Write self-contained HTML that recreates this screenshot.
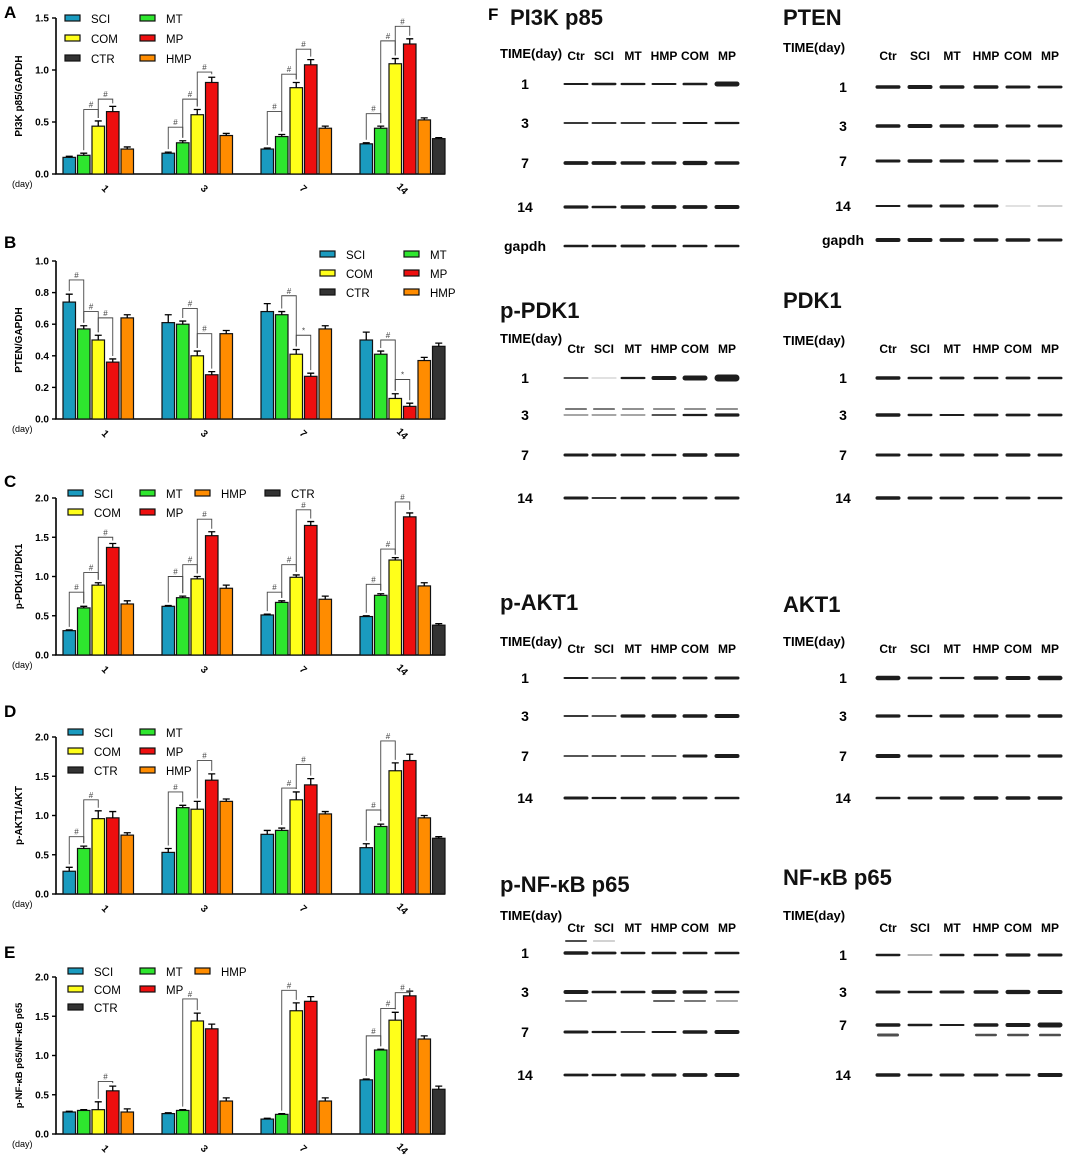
<!DOCTYPE html>
<html><head><meta charset="utf-8">
<style>
html,body{margin:0;padding:0;background:#fff;}
svg{display:block;font-family:"Liberation Sans",Arial,sans-serif;}
</style></head>
<body>
<svg id="fig" width="1065" height="1157" viewBox="0 0 1065 1157" xmlns="http://www.w3.org/2000/svg"></svg>
<script>
// ---------- chart data ----------
const days = ["1","3","7","14"];
const seriesNames = ["SCI","MT","COM","MP","HMP","CTR"];
const seriesColors = ["#1a9bbf","#2ee62e","#ffff1a","#ee0f0f","#ff8c00","#333333"];

const aSCI=[0.16,0.20,0.24,0.29], aMT=[0.18,0.30,0.36,0.44], aCOM=[0.46,0.57,0.83,1.06], aMP=[0.60,0.88,1.05,1.25], aHMP=[0.24,0.37,0.44,0.52], aCTR=[null,null,null,0.34];
const aErr=[0.01,0.02,0.05,0.05,0.02,0.01];
const aTicks=["0.0","0.5","1.0","1.5"];
const bSCI=[0.74,0.61,0.68,0.50], bMT=[0.57,0.60,0.66,0.41], bCOM=[0.50,0.40,0.41,0.13], bMP=[0.36,0.28,0.27,0.08], bHMP=[0.64,0.54,0.57,0.37], bCTR=[null,null,null,0.46];
const bErr=[0.05,0.02,0.03,0.02,0.02,0.02];
const bTicks=["0.0","0.2","0.4","0.6","0.8","1.0"];
const cSCI=[0.31,0.62,0.51,0.49], cMT=[0.60,0.73,0.67,0.76], cCOM=[0.89,0.97,0.99,1.21], cMP=[1.37,1.52,1.65,1.76], cHMP=[0.65,0.85,0.71,0.88], cCTR=[null,null,null,0.38];
const cErr=[0.01,0.02,0.03,0.05,0.04,0.02];
const dSCI=[0.29,0.53,0.76,0.59], dMT=[0.58,1.10,0.81,0.86], dCOM=[0.96,1.08,1.20,1.57], dMP=[0.97,1.45,1.39,1.70], dHMP=[0.75,1.18,1.02,0.97], dCTR=[null,null,null,0.71];
const dErr=[0.05,0.03,0.1,0.08,0.03,0.02];
const eSCI=[0.28,0.26,0.19,0.69], eMT=[0.30,0.30,0.25,1.07], eCOM=[0.31,1.44,1.57,1.45], eMP=[0.55,1.34,1.69,1.76], eHMP=[0.28,0.42,0.42,1.21], eCTR=[null,null,null,0.57];
const eErr=[0.01,0.01,0.1,0.06,0.04,0.04];
const cdeTicks=["0.0","0.5","1.0","1.5","2.0"];
// brackets: [group, barFrom, barTo, level, symbol]
const aBr=[[0,1,2,0.62,"#"],[0,2,3,0.72,"#"],[1,0,1,0.45,"#"],[1,1,2,0.72,"#"],[1,2,3,0.98,"#"],[2,0,1,0.60,"#"],[2,1,2,0.96,"#"],[2,2,3,1.20,"#"],[3,0,1,0.58,"#"],[3,1,2,1.28,"#"],[3,2,3,1.42,"#"]];
const bBr=[[0,0,1,0.88,"#"],[0,1,2,0.68,"#"],[0,2,3,0.64,"#"],[1,1,2,0.70,"#"],[1,2,3,0.54,"#"],[2,1,2,0.78,"#"],[2,2,3,0.53,"*"],[3,1,2,0.50,"#"],[3,2,3,0.25,"*"]];
const cBr=[[0,0,1,0.80,"#"],[0,1,2,1.05,"#"],[0,2,3,1.50,"#"],[1,0,1,1.00,"#"],[1,1,2,1.15,"#"],[1,2,3,1.73,"#"],[2,0,1,0.80,"#"],[2,1,2,1.15,"#"],[2,2,3,1.85,"#"],[3,0,1,0.90,"#"],[3,1,2,1.35,"#"],[3,2,3,1.95,"#"]];
const dBr=[[0,0,1,0.73,"#"],[0,1,2,1.20,"#"],[1,0,1,1.30,"#"],[1,2,3,1.70,"#"],[2,1,2,1.35,"#"],[2,2,3,1.65,"#"],[3,0,1,1.07,"#"],[3,1,2,1.95,"#"]];
const eBr=[[0,2,3,0.67,"#"],[1,1,2,1.72,"#"],[2,1,2,1.83,"#"],[3,0,1,1.25,"#"],[3,1,2,1.60,"#"],[3,2,3,1.80,"#"]];

const NS="http://www.w3.org/2000/svg";
const svg=document.getElementById('fig');
function mk(tag,attrs,parent,text){const e=document.createElementNS(NS,tag);for(const k in attrs)e.setAttribute(k,attrs[k]);if(text!==undefined)e.textContent=text;(parent||svg).appendChild(e);return e;}

function chart(cfg){
  const g=mk('g',{});
  
  
  const yv=v=>cfg.y0-(v/cfg.ymax)*(cfg.y0-cfg.ytop);
  const bx=(gi,i)=>63+gi*99+i*14.5;
  const bw=12.5;
  const L=mk('text',{x:4,y:cfg.letterY,'font-size':17,'font-weight':'bold'},g,cfg.letter);
  
  const ax=mk('path',{d:`M56 ${cfg.ytop} V${cfg.y0} H445`,stroke:'#000','stroke-width':1.6,fill:'none'},g);
  
  cfg.ticks.forEach((t,i)=>{const v=parseFloat(t);const y=yv(v);
    mk('line',{x1:52,x2:56,y1:y,y2:y,stroke:'#000','stroke-width':1.4},g);
    const tt=mk('text',{x:49,y:y+3.5,'font-size':10,'font-weight':'bold','text-anchor':'end'},g,t);
    });
  const yl=mk('text',{x:0,y:0,'font-size':cfg.ylFont||10,'font-weight':'bold','text-anchor':'middle',transform:`translate(${cfg.ylX||22},${(cfg.y0+cfg.ytop)/2}) rotate(-90)`},g,cfg.ylabel);
  
  const dl=mk('text',{x:12,y:cfg.y0+13,'font-size':9},g,'(day)');
  
  days.forEach((d,gi)=>{const x=63+gi*99+40;
    const t=mk('text',{x:0,y:0,'font-size':10,'font-weight':'bold','text-anchor':'middle',transform:`translate(${x},${cfg.y0+17}) rotate(45)`},g,d);
    });
  cfg.series.forEach((arr,si)=>{arr.forEach((v,gi)=>{if(v===null)return;
    const x=bx(gi,si), y=yv(v);
    const r=mk('rect',{x:x,y:y,width:bw,height:cfg.y0-y,fill:seriesColors[si],stroke:'#111','stroke-width':1.2},g);
    
    
    const e=cfg.err[si], ye=yv(v+e), cx=x+bw/2;
    const eb=mk('path',{d:`M${cx} ${y} V${ye} M${cx-3.5} ${ye} H${cx+3.5}`,stroke:'#000','stroke-width':1.3,fill:'none'},g);
    });});
  cfg.br.forEach(b=>{const [gi,i,j,lv,s]=b;
    const x1=bx(gi,i)+bw/2, x2=bx(gi,j)+bw/2, yt=yv(lv);
    const v1=cfg.series[i][gi], v2=cfg.series[j][gi];
    const y1=yv(v1+cfg.err[i])-3, y2=yv(v2+cfg.err[j])-3;
    const p=mk('path',{d:`M${x1} ${y1} V${yt} H${x2} V${y2}`,stroke:'#444','stroke-width':0.9,fill:'none'},g);
    
    const t=mk('text',{x:(x1+x2)/2,y:yt-2,'font-size':8,'text-anchor':'middle',fill:'#444'},g,s);
    });
  cfg.legend.forEach(l=>{const [si,x,y]=l;
    const lg=mk('g',{},g);
    
    
    mk('rect',{x:x,y:y-4,width:15,height:6,fill:seriesColors[si],stroke:'#111','stroke-width':1.2},lg);
    mk('text',{x:x+26,y:y+4,'font-size':11.5},lg,seriesNames[si]);});
}

chart({name:'chart-a-pi3k',letter:'A',letterY:18,ytop:18,y0:174,ymax:1.5,ticks:aTicks,ylabel:'PI3K p85/GAPDH',
  series:[aSCI,aMT,aCOM,aMP,aHMP,aCTR],err:aErr,br:aBr,
  legend:[[0,65,19],[2,65,39],[5,65,59],[1,140,19],[3,140,39],[4,140,59]]});
chart({name:'chart-b-pten',letter:'B',letterY:248,ytop:261,y0:419,ymax:1.0,ticks:bTicks,ylabel:'PTEN/GAPDH',
  series:[bSCI,bMT,bCOM,bMP,bHMP,bCTR],err:bErr,br:bBr,
  legend:[[0,320,255],[2,320,274],[5,320,293],[1,404,255],[3,404,274],[4,404,293]]});
chart({name:'chart-c-ppdk1',letter:'C',letterY:487,ytop:498,y0:655,ymax:2.0,ticks:cdeTicks,ylabel:'p-PDK1/PDK1',
  series:[cSCI,cMT,cCOM,cMP,cHMP,cCTR],err:cErr,br:cBr,
  legend:[[0,68,494],[1,140,494],[4,195,494],[5,265,494],[2,68,513],[3,140,513]]});
chart({name:'chart-d-pakt1',letter:'D',letterY:717,ytop:737,y0:894,ymax:2.0,ticks:cdeTicks,ylabel:'p-AKT1/AKT',
  series:[dSCI,dMT,dCOM,dMP,dHMP,dCTR],err:dErr,br:dBr,
  legend:[[0,68,733],[2,68,752],[5,68,771],[1,140,733],[3,140,752],[4,140,771]]});
chart({name:'chart-e-pnfkb',letter:'E',letterY:958,ytop:977,y0:1134,ymax:2.0,ticks:cdeTicks,ylabel:'p-NF-κB p65/NF-κB p65',ylFont:9.5,
  series:[eSCI,eMT,eCOM,eMP,eHMP,eCTR],err:eErr,br:eBr,
  legend:[[0,68,972],[1,140,972],[4,195,972],[2,68,990],[3,140,990],[5,68,1008]]});

// ---------- western blots ----------
const F=mk('text',{x:488,y:20,'font-size':17,'font-weight':'bold'},svg,'F');

const lanes=["Ctr","SCI","MT","HMP","COM","MP"];
function blot(name,title,left,titleY,timeY,headY,rows,titleX){
  const g=mk('g',{});
  
  const lx=left?[576,604,633,664,695,727]:[888,920,952,986,1018,1050];
  const tx=left?500:783, rx=left?525:843;
  const t=mk('text',{x:titleX||tx,y:titleY,'font-size':22,'font-weight':'bold','fill':'#111'},g,title);
  
  const tm=mk('text',{x:tx,y:timeY,'font-size':13,'font-weight':'bold'},g,'TIME(day)');
  
  lanes.forEach((l,i)=>{const e=mk('text',{x:lx[i],y:headY,'font-size':12,'font-weight':'bold','text-anchor':'middle'},g,l);
    });
  rows.forEach(r=>{const [lab,y,th,extra]=r;
    const e=mk('text',{x:rx,y:y+5,'font-size':14,'font-weight':'bold','text-anchor':'middle'},g,lab);
    
    lx.forEach((x,i)=>{const h=th[i];
      const b=mk('rect',{x:x-12.5,y:y-h/2,width:25,height:h,rx:h/2,fill:'#111',opacity:h<1.6?0.5:0.95},g);
      });
    if(extra){lx.forEach((x,i)=>{const h=extra[1][i];if(!h)return;
      mk('rect',{x:x-11,y:y+extra[0]-h/2,width:22,height:h,rx:h/2,fill:'#222',opacity:0.8},g);});}
  });
}
blot('blot-pi3k','PI3K p85',true,25,58,60,[["1",84,[2,2.4,2.2,2,2.6,5]],["3",123,[1.8,1.8,1.8,1.8,2,2.2]],["7",163,[3.8,3.8,3.4,3.4,4.2,3.6]],["14",207,[3.2,2.6,3.4,3.8,3.8,4]],["gapdh",246,[2.6,2.6,2.8,2.6,2.6,2.6]]],510);
blot('blot-pten','PTEN',false,25,52,60,[["1",87,[3.4,4,3.6,3.4,3,2.8]],["3",126,[3.6,4,3.6,3.4,3,3]],["7",161,[3,3.4,3.2,3,2.8,2.6]],["14",206,[2,3,3,3,0.6,0.8]],["gapdh",240,[4,4,3.8,3.6,3.4,3]]]);
blot('blot-ppdk1','p-PDK1',true,318,343,353,[["1",378,[1.6,0.5,2.2,4,5,7]],["3",415,[1.4,1.4,1.4,1.6,2.2,3.2],[-6,[1.6,1.6,1.2,1.2,1.2,1.2]]],["7",455,[3,3,2.8,2.6,3.4,3.4]],["14",498,[3,1.8,2.6,2.6,2.8,3]]]);
blot('blot-pdk1','PDK1',false,308,345,353,[["1",378,[3.4,2.6,2.8,2.6,2.8,2.6]],["3",415,[3.4,2.4,2,2.8,2.8,2.8]],["7",455,[3,2.8,3,3,3.2,3]],["14",498,[3.6,3,2.8,2.6,2.8,2.6]]]);
blot('blot-pakt1','p-AKT1',true,610,646,653,[["1",678,[2,1.6,2.6,2.8,2.8,3]],["3",716,[1.8,1.6,3.2,3.4,3.6,4]],["7",756,[1.6,1.6,1.6,1.6,3,4]],["14",798,[3,2.2,2.4,3,2.8,2.6]]]);
blot('blot-akt1','AKT1',false,612,646,653,[["1",678,[4.4,2.8,2.2,3.6,4,4.4]],["3",716,[3.2,2.2,3.2,3.2,3.2,3.6]],["7",756,[4,3,2.8,2.8,2.8,3.2]],["14",798,[2.6,2.8,3.2,3.6,3.6,3.4]]]);
blot('blot-pnfkb','p-NF-κB p65',true,892,920,932,[["1",953,[3.6,2.8,2.4,2.6,2.6,2.6],[-12,[2,0.4,0,0,0,0]]],["3",992,[4,2.6,2.6,3.8,3.6,2.6],[9,[1.6,0,0,1.8,1.4,1]]],["7",1032,[3,2.2,1.8,2,3.6,4]],["14",1075,[2.8,2.4,3,3.2,3.8,4]]]);
blot('blot-nfkb','NF-κB p65',false,885,920,932,[["1",955,[2.4,1.2,2.6,2.6,3.2,3]],["3",992,[3,2.4,3,3.6,4.2,4]],["7",1025,[3.6,2.4,2,3.6,4,5],[10,[3,0,0,2.4,2.4,2.6]]],["14",1075,[3.4,2.8,3,3,2.8,4]]]);
</script>
</body></html>
